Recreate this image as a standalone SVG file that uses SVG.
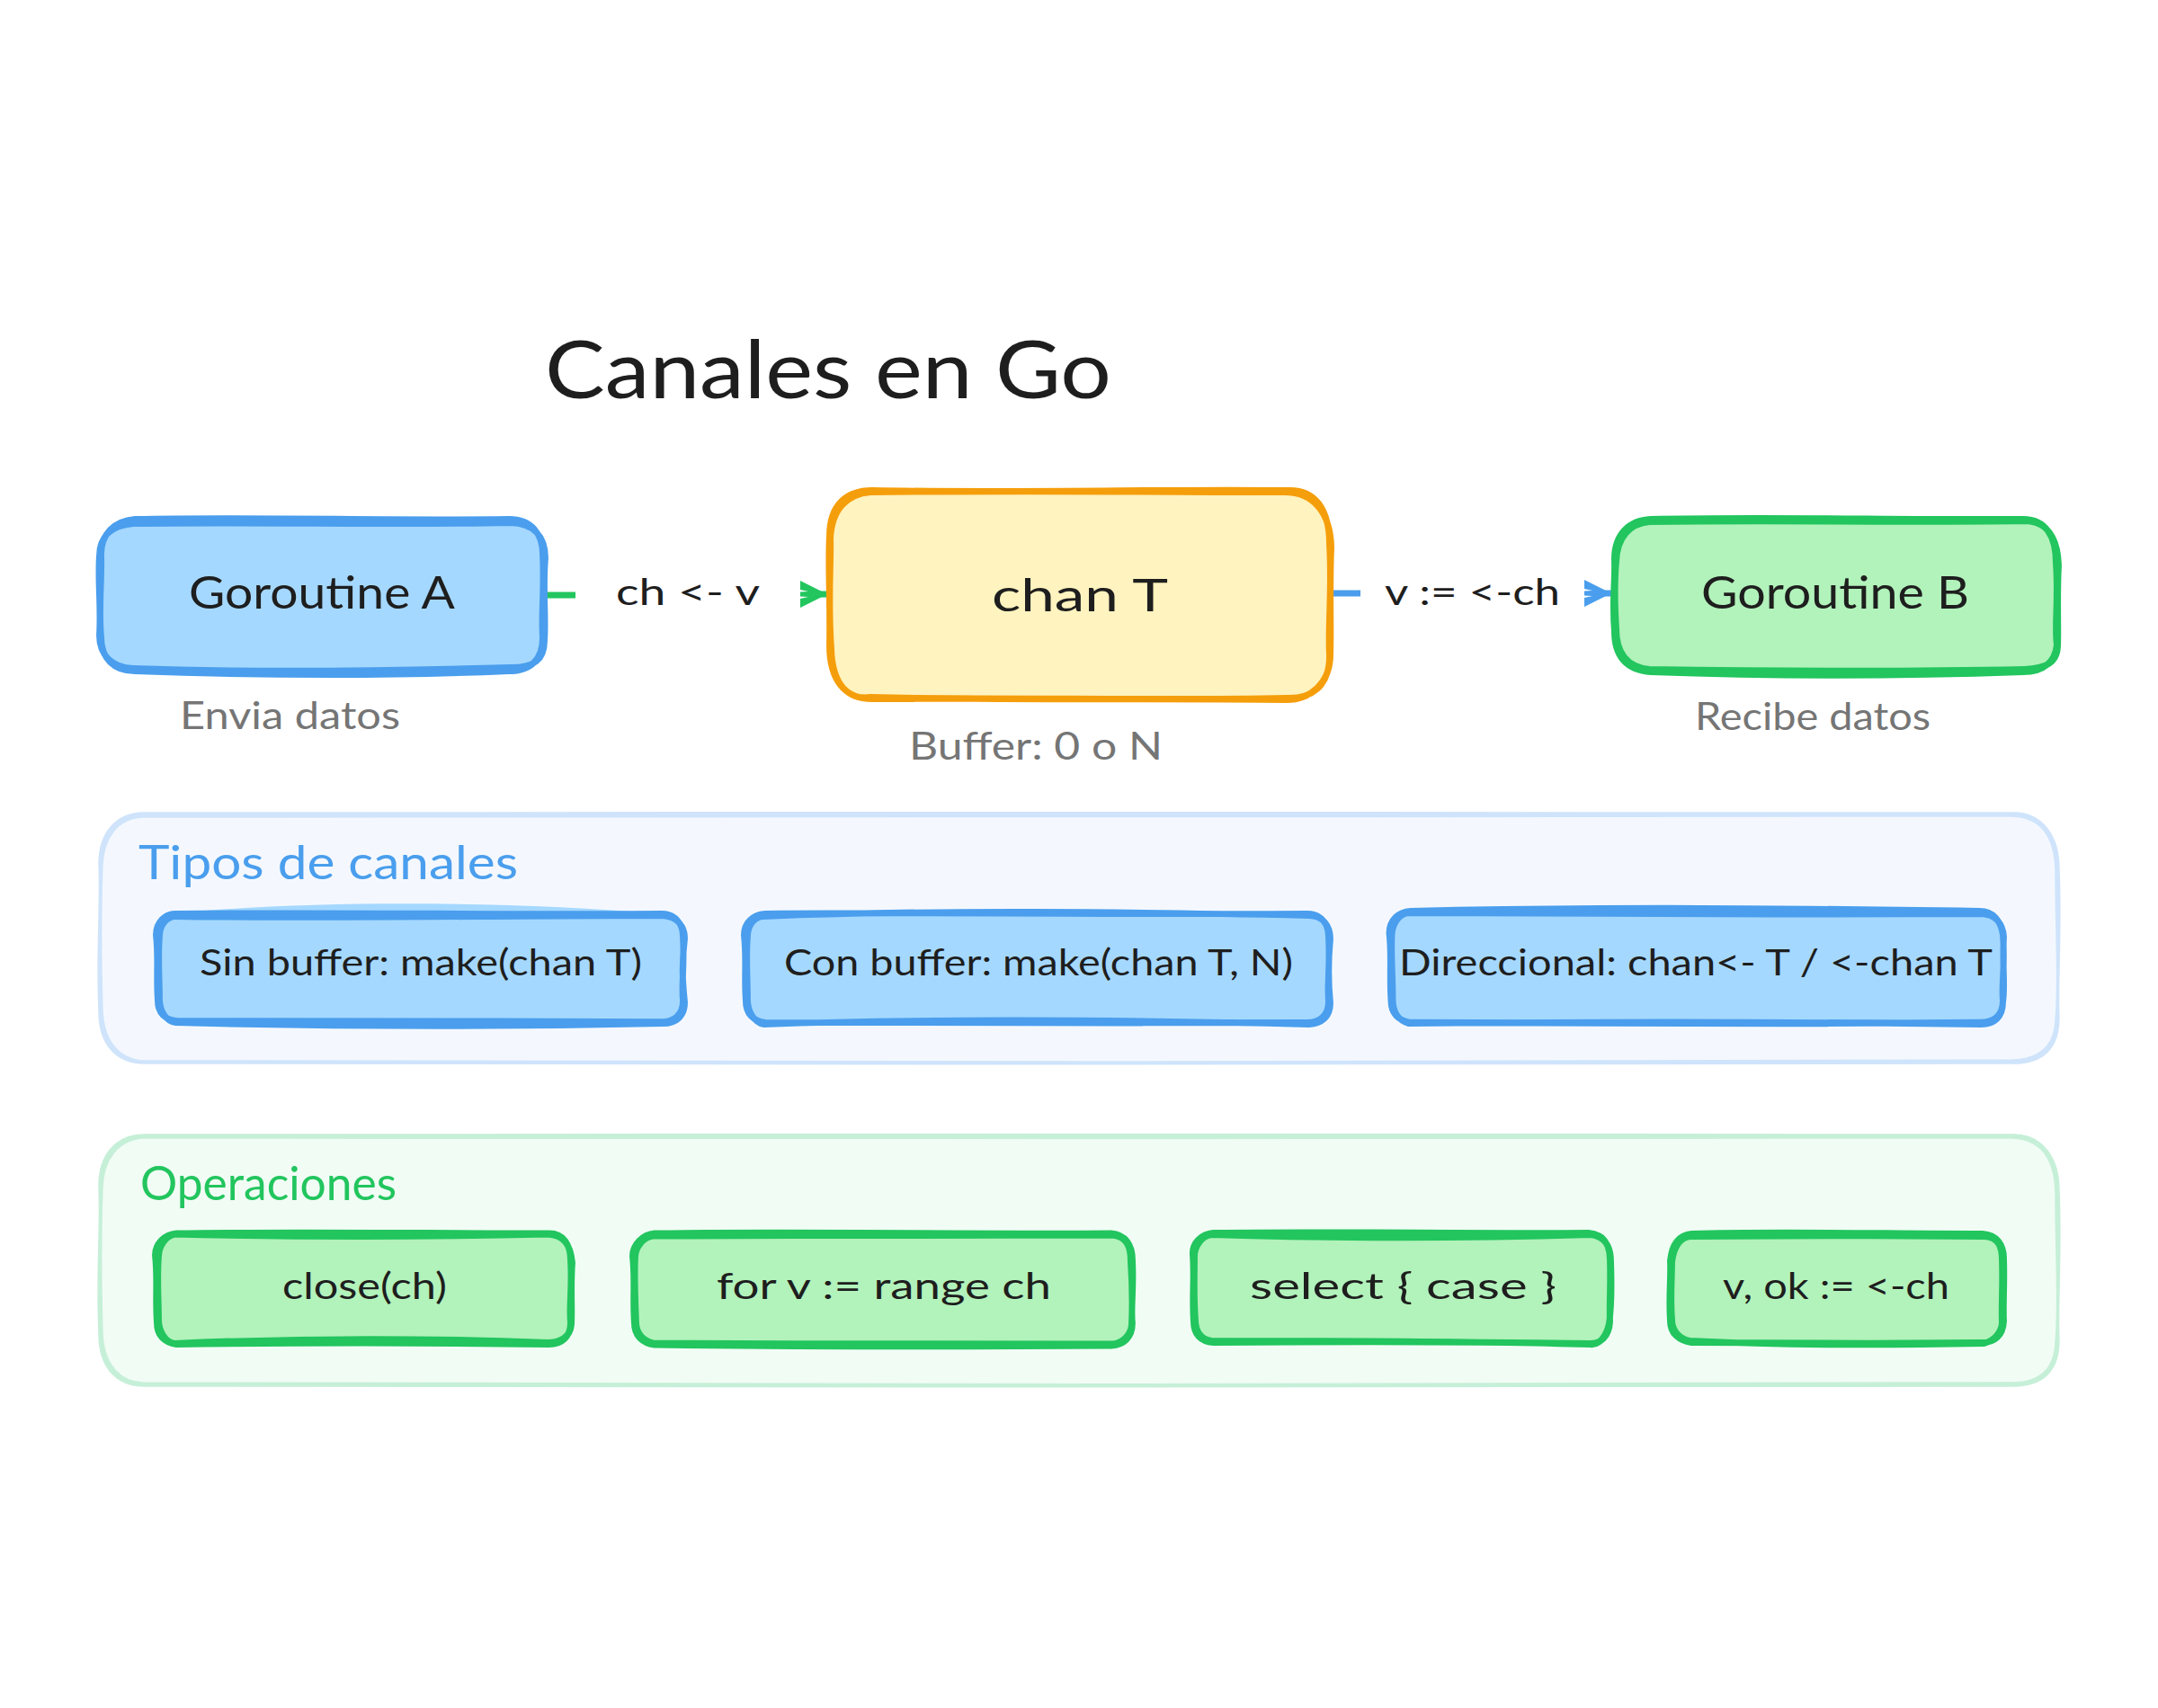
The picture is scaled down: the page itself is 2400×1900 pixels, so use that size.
<svg xmlns="http://www.w3.org/2000/svg" width="2400" height="1900" viewBox="0 0 2400 1900">
<style>
text{font-family:"Lato","Liberation Sans",sans-serif;fill:#1e1e1e;font-size:42px}
.t{font-size:90px}
.n{font-size:50px}
.s{font-size:42px;fill:#757575}
.h{font-size:52px}
.i{font-size:40px}
.l{font-size:40px}
.sb,.sg,.so,.gb,.gg{fill:none;stroke-linejoin:round;stroke-linecap:round}
.sb{stroke:#4a9eed;stroke-width:7}
.sg{stroke:#22c55e;stroke-width:7}
.so{stroke:#f59e0b;stroke-width:7}
.gb{stroke:#cfe4fb;stroke-width:3.5}
.gg{stroke:#c6efd8;stroke-width:3.5}
.fb{fill:#a5d8ff}.fg{fill:#b2f2bb}.fo{fill:#fff3bf}.fgb{fill:#f4f8fe}.fgg{fill:#f1fcf5}
.cg{stroke:#22c55e;stroke-width:7;fill:none}
.cb{stroke:#4a9eed;stroke-width:7;fill:none}
</style>
<defs>
<marker id="ag" markerUnits="userSpaceOnUse" markerWidth="32" markerHeight="32" refX="31" refY="16" orient="auto"><path d="M1 1L31 16L1 31L1 21L10 19L1 18.5V13.5L10 13L1 11Z" fill="#22c55e"/></marker>
<marker id="ab" markerUnits="userSpaceOnUse" markerWidth="32" markerHeight="32" refX="31" refY="16" orient="auto"><path d="M1 1L31 16L1 31L1 21L10 19L1 18.5V13.5L10 13L1 11Z" fill="#4a9eed"/></marker>
</defs>

<text id="title" class="t" x="606" y="443" textLength="630" lengthAdjust="spacingAndGlyphs">Canales en Go</text>

<g id="group-tipos">
<g transform="matrix(.9936 0 0 .9964 1.7 -.7)">
<path class="fgb" d="M160 909C800 906 1600 911 2252 909C2284 909 2302 935 2302 970C2305 1040 2300 1100 2302 1137C2302 1170 2285 1187 2252 1187C1600 1190 800 1186 160 1187C128 1187 110 1165 110 1130C107 1060 112 1020 110 965C110 932 128 909 160 909Z"/>
<path class="gb" d="M160 909C800 906 1600 911 2252 909C2284 909 2302 935 2302 970C2305 1040 2300 1100 2302 1137C2302 1170 2285 1187 2252 1187C1600 1190 800 1186 160 1187C128 1187 110 1165 110 1130C107 1060 112 1020 110 965C110 932 128 909 160 909ZM158 912C800 910 1600 913 2250 911C2286 912 2299 938 2300 972C2300 1040 2304 1100 2300 1139C2299 1168 2283 1184 2250 1185C1600 1186 800 1189 158 1186C130 1184 113 1162 112 1128C110 1060 110 1020 112 967C113 935 130 913 158 912Z"/>
</g>
<text class="h" style="fill:#4a9eed" x="154" y="978" textLength="422" lengthAdjust="spacingAndGlyphs">Tipos de canales</text>
</g>

<g id="group-operaciones">
<g transform="matrix(.9936 0 0 1 1.7 -7)">
<path class="fgg" d="M160 1270C800 1267 1600 1272 2252 1270C2284 1270 2302 1296 2302 1331C2305 1400 2300 1460 2302 1498C2302 1531 2285 1548 2252 1548C1600 1551 800 1547 160 1548C128 1548 110 1526 110 1491C107 1420 112 1380 110 1326C110 1293 128 1270 160 1270Z"/>
<path class="gg" d="M160 1270C800 1267 1600 1272 2252 1270C2284 1270 2302 1296 2302 1331C2305 1400 2300 1460 2302 1498C2302 1531 2285 1548 2252 1548C1600 1551 800 1547 160 1548C128 1548 110 1526 110 1491C107 1420 112 1380 110 1326C110 1293 128 1270 160 1270ZM158 1272C800 1271 1600 1274 2250 1272C2286 1273 2299 1299 2300 1333C2300 1400 2304 1460 2300 1500C2299 1529 2283 1546 2250 1546C1600 1547 800 1550 158 1546C130 1545 113 1523 112 1489C110 1420 110 1380 112 1328C113 1296 130 1274 158 1272Z"/>
</g>
<text class="h" style="fill:#22c55e" x="156" y="1335" textLength="285" lengthAdjust="spacingAndGlyphs">Operaciones</text>
</g>

<g id="connectors">
<path class="cg" d="M607 662H640"/>
<path class="cg" d="M900 661H920" marker-end="url(#ag)"/>
<path class="cb" d="M1480 660H1513"/>
<path class="cb" d="M1772 660H1792" marker-end="url(#ab)"/>
</g>

<g id="goroutine-a">
<g transform="matrix(.99 0 0 1 1.6 -3.5)">
<path class="fb" d="M150 582C290 579 430 585 570 582C596 582 608 598 608 620C610 660 606 690 608 712C608 736 596 750 570 750C430 756 290 755 150 750C126 750 112 736 112 712C109 680 113 650 112 620C112 598 126 583 150 582Z"/>
<path class="sb" d="M150 581C290 578 430 583 570 581C596 581 608 598 608 620C610 660 606 690 608 712C608 736 596 750 570 750C430 756 290 755 150 750C126 750 112 736 112 712C109 680 113 650 112 620C112 598 126 583 150 581ZM148 586C290 584 440 588 572 585C598 586 611 600 611 624C608 660 612 690 610 716C610 738 598 746 572 746C430 750 290 752 148 747C124 746 110 732 110 710C112 680 108 650 110 622C110 600 124 588 148 586Z"/>
</g>
<text class="n" x="210" y="677" textLength="296" lengthAdjust="spacingAndGlyphs">Goroutine A</text>
<text class="s" x="200" y="811" textLength="245" lengthAdjust="spacingAndGlyphs">Envia datos</text>
</g>

<g id="chan-t">
<g transform="matrix(.9929 0 0 .9957 3.1 -1.1)">
<path class="fo" d="M974 549C1150 552 1320 547 1438 549C1470 547 1486 570 1486 610C1489 660 1484 700 1486 734C1486 768 1466 782 1438 781C1300 784 1130 780 974 782C942 782 926 760 926 722C927 670 924 630 926 600C926 566 944 549 974 549Z"/>
<path class="so" d="M974 549C1150 552 1320 547 1438 549C1470 547 1486 570 1486 610C1489 660 1484 700 1486 734C1486 768 1466 782 1438 781C1300 784 1130 780 974 782C942 782 926 760 926 722C927 670 924 630 926 600C926 566 944 549 974 549ZM972 551C1150 549 1320 551 1436 551C1468 551 1487 574 1488 612C1486 660 1488 700 1487 732C1487 764 1464 784 1436 783C1300 781 1130 784 972 780C946 784 929 764 928 726C924 670 928 630 927 604C928 570 946 553 972 551Z"/>
</g>
<text class="n" x="1103" y="680" textLength="196" lengthAdjust="spacingAndGlyphs">chan T</text>
<text class="s" x="1011" y="845" textLength="282" lengthAdjust="spacingAndGlyphs">Buffer: 0 o N</text>
</g>

<g id="goroutine-b">
<g transform="matrix(.992 0 0 1.006 5.9 -7)">
<path class="fg" d="M1845 581C1980 578 2120 582 2262 581C2288 581 2299 600 2299 630C2302 670 2297 700 2300 720C2298 738 2286 750 2262 750C2120 755 1980 755 1845 750C1820 748 1804 736 1804 705C1801 670 1805 650 1804 625C1804 598 1820 582 1845 581Z"/>
<path class="sg" d="M1845 581C1980 578 2120 582 2262 581C2288 581 2299 600 2299 630C2302 670 2297 700 2300 720C2298 738 2286 750 2262 750C2120 755 1980 755 1845 750C1820 748 1804 736 1804 705C1801 670 1805 650 1804 625C1804 598 1820 582 1845 581ZM1843 584C1980 582 2120 585 2264 583C2292 584 2301 604 2302 632C2300 670 2302 700 2301 722C2300 740 2288 746 2264 747C2120 750 1980 749 1843 747C1822 745 1806 733 1806 702C1804 670 1804 650 1806 628C1807 600 1822 586 1843 584Z"/>
</g>
<text class="n" x="1892" y="677" textLength="298" lengthAdjust="spacingAndGlyphs">Goroutine B</text>
<text class="s" x="1885" y="812" textLength="262" lengthAdjust="spacingAndGlyphs">Recibe datos</text>
</g>

<text id="label-send" class="l" x="685" y="673" textLength="160" lengthAdjust="spacingAndGlyphs">ch &lt;- v</text>
<text id="label-recv" class="l" x="1540" y="673" textLength="195" lengthAdjust="spacingAndGlyphs">v := &lt;-ch</text>

<g id="sin-buffer">
<g transform="matrix(.9866 0 0 .9845 3.8 12.3)">
<path class="fb" d="M196 1019C350 1005 560 1005 742 1020C758 1022 766 1032 766 1046C768 1080 764 1100 766 1118C766 1134 756 1142 742 1142C560 1148 350 1147 196 1142C182 1140 174 1132 174 1118C172 1090 175 1070 172 1044C172 1030 182 1020 196 1019Z"/>
<path class="sb" d="M196 1020C350 1018 560 1021 742 1020C758 1020 766 1032 766 1046C768 1080 764 1100 766 1118C766 1134 756 1142 742 1142C560 1141 350 1141 196 1141C182 1140 174 1132 174 1118C172 1090 175 1070 172 1044C172 1030 182 1019 196 1020ZM194 1023C350 1026 560 1022 744 1022C760 1024 768 1034 768 1048C764 1080 766 1100 768 1120C768 1136 758 1144 744 1144C560 1148 350 1147 194 1143C184 1142 176 1130 176 1116C176 1090 174 1070 176 1046C176 1032 184 1024 194 1023Z"/>
</g>
<text class="i" x="222" y="1085" textLength="492" lengthAdjust="spacingAndGlyphs">Sin buffer: make(chan T)</text>
</g>

<g id="con-buffer">
<g transform="matrix(.9879 0 0 .992 8.5 4.6)">
<path class="fb" d="M853 1020C1050 1018 1260 1021 1463 1020C1479 1020 1487 1032 1487 1046C1489 1080 1485 1100 1487 1118C1487 1134 1477 1142 1463 1142C1260 1143 1050 1142 853 1142C839 1140 831 1132 831 1118C829 1090 832 1070 829 1044C829 1030 839 1021 853 1020Z"/>
<path class="sb" d="M853 1020C1050 1018 1260 1021 1463 1020C1479 1020 1487 1032 1487 1046C1489 1080 1485 1100 1487 1118C1487 1134 1477 1142 1463 1142C1260 1143 1050 1142 853 1142C839 1140 831 1132 831 1118C829 1090 832 1070 829 1044C829 1030 839 1021 853 1020ZM851 1023C1050 1015 1260 1018 1465 1022C1481 1022 1489 1034 1489 1048C1486 1080 1487 1100 1489 1120C1489 1136 1479 1143 1465 1144C1260 1139 1050 1137 851 1144C841 1142 833 1130 833 1116C833 1090 831 1070 833 1046C833 1032 841 1024 851 1023Z"/>
</g>
<text class="i" x="872" y="1085" textLength="566" lengthAdjust="spacingAndGlyphs">Con buffer: make(chan T, N)</text>
</g>

<g id="direccional">
<g transform="matrix(.9891 0 0 1.0157 11.9 -22.5)">
<path class="fb" d="M1574 1020C1800 1015 2000 1017 2214 1020C2230 1020 2238 1032 2240 1046C2243 1080 2238 1100 2240 1118C2240 1134 2230 1142 2214 1142C2000 1144 1800 1144 1574 1142C1560 1140 1552 1132 1552 1118C1550 1090 1553 1070 1550 1044C1550 1030 1560 1021 1574 1020Z"/>
<path class="sb" d="M1574 1020C1800 1015 2000 1017 2214 1020C2230 1020 2238 1032 2240 1046C2243 1080 2238 1100 2240 1118C2240 1134 2230 1142 2214 1142C2000 1144 1800 1144 1574 1142C1560 1140 1552 1132 1552 1118C1550 1090 1553 1070 1550 1044C1550 1030 1560 1021 1574 1020ZM1572 1022C1800 1023 2000 1024 2216 1023C2232 1024 2240 1034 2241 1048C2239 1080 2243 1100 2240 1120C2240 1136 2230 1144 2216 1144C2000 1141 1800 1141 1572 1143C1560 1140 1554 1130 1554 1116C1554 1090 1552 1070 1553 1046C1554 1032 1562 1023 1572 1022Z"/>
</g>
<text class="i" x="1556" y="1085" textLength="660" lengthAdjust="spacingAndGlyphs">Direccional: chan&lt;- T / &lt;-chan T</text>
</g>

<g id="close">
<g transform="matrix(.9872 0 0 1.012 2.7 -24.5)">
<path class="fg" d="M196 1380C330 1378 480 1380 616 1380C632 1380 640 1392 640 1410C642 1440 638 1460 640 1478C640 1494 630 1502 616 1502C480 1500 330 1500 196 1502C182 1500 174 1492 174 1478C172 1450 175 1430 172 1404C172 1392 182 1381 196 1380Z"/>
<path class="sg" d="M196 1380C330 1378 480 1380 616 1380C632 1380 640 1392 640 1410C642 1440 638 1460 640 1478C640 1494 630 1502 616 1502C480 1500 330 1500 196 1502C182 1500 174 1492 174 1478C172 1450 175 1430 172 1404C172 1392 182 1381 196 1380ZM194 1381C330 1384 480 1384 614 1381C634 1382 640 1394 642 1412C640 1440 642 1460 641 1480C640 1494 628 1500 614 1500C480 1495 330 1495 194 1501C184 1500 176 1488 176 1474C176 1450 174 1430 176 1406C176 1394 184 1383 194 1381Z"/>
</g>
<text class="i" x="314" y="1445" textLength="183" lengthAdjust="spacingAndGlyphs">close(ch)</text>
</g>

<g id="for-range">
<g transform="matrix(.984 0 0 1.008 11.7 -18)">
<path class="fg" d="M728 1379C900 1377 1080 1380 1244 1379C1260 1380 1268 1392 1268 1408C1270 1440 1266 1460 1268 1478C1268 1494 1258 1502 1244 1503C1080 1504 900 1504 728 1502C714 1500 705 1492 705 1478C703 1450 706 1430 703 1404C703 1392 714 1380 728 1379Z"/>
<path class="sg" d="M728 1379C900 1377 1080 1380 1244 1379C1260 1380 1268 1392 1268 1408C1270 1440 1266 1460 1268 1478C1268 1494 1258 1502 1244 1503C1080 1504 900 1504 728 1502C714 1500 705 1492 705 1478C703 1450 706 1430 703 1404C703 1392 714 1380 728 1379ZM726 1382C900 1381 1080 1382 1246 1381C1262 1383 1266 1394 1266 1410C1268 1440 1268 1460 1267 1480C1266 1492 1256 1500 1246 1501C1080 1501 900 1501 726 1500C716 1498 707 1490 707 1476C706 1450 705 1430 706 1406C706 1394 716 1383 726 1382Z"/>
</g>
<text class="i" x="797" y="1445" textLength="372" lengthAdjust="spacingAndGlyphs">for v := range ch</text>
</g>

<g id="select">
<g transform="matrix(.9894 0 0 1.008 9.6 -19.5)">
<path class="fg" d="M1354 1380C1480 1378 1640 1381 1776 1380C1792 1381 1800 1392 1800 1410C1801 1440 1799 1460 1800 1478C1799 1494 1790 1503 1776 1502C1640 1502 1480 1504 1354 1502C1338 1502 1331 1492 1331 1478C1329 1450 1332 1430 1330 1404C1330 1392 1340 1381 1354 1380Z"/>
<path class="sg" d="M1354 1380C1480 1378 1640 1381 1776 1380C1792 1381 1800 1392 1800 1410C1801 1440 1799 1460 1800 1478C1799 1494 1790 1503 1776 1502C1640 1500 1480 1500 1354 1501C1340 1500 1332 1492 1332 1478C1330 1450 1333 1430 1331 1404C1330 1392 1340 1381 1354 1380ZM1352 1382C1480 1386 1640 1386 1778 1382C1794 1384 1801 1394 1801 1412C1802 1440 1802 1460 1799 1480C1796 1494 1788 1504 1778 1503C1640 1499 1480 1499 1352 1499C1342 1498 1334 1490 1334 1476C1332 1450 1333 1430 1333 1406C1333 1394 1342 1383 1352 1382Z"/>
</g>
<text class="i" x="1390" y="1445" textLength="341" lengthAdjust="spacingAndGlyphs">select { case }</text>
</g>

<g id="v-ok">
<g transform="matrix(.9867 0 0 .992 18.3 3.5)">
<path class="fg" d="M1884 1378C1980 1376 2110 1379 2218 1379C2232 1380 2240 1392 2240 1408C2241 1440 2239 1460 2240 1478C2239 1494 2230 1502 2216 1502C2110 1503 1980 1503 1884 1502C1872 1500 1864 1492 1864 1478C1862 1450 1865 1430 1862 1404C1862 1390 1872 1379 1884 1378Z"/>
<path class="sg" d="M1888 1380C1980 1377 2110 1380 2216 1380C2232 1381 2240 1392 2240 1408C2241 1440 2239 1460 2240 1478C2239 1494 2230 1502 2216 1502C2110 1503 1980 1503 1888 1502C1874 1500 1864 1492 1864 1478C1862 1450 1865 1430 1864 1410C1866 1392 1874 1381 1888 1380ZM1886 1383C1980 1382 2110 1382 2218 1383C2234 1384 2238 1394 2238 1410C2239 1440 2237 1460 2238 1480C2237 1492 2228 1500 2218 1503C2110 1505 1980 1505 1886 1500C1876 1498 1866 1490 1866 1476C1864 1450 1866 1430 1866 1412C1868 1394 1876 1384 1886 1383Z"/>
</g>
<text class="i" x="1916" y="1445" textLength="252" lengthAdjust="spacingAndGlyphs">v, ok := &lt;-ch</text>
</g>
</svg>
